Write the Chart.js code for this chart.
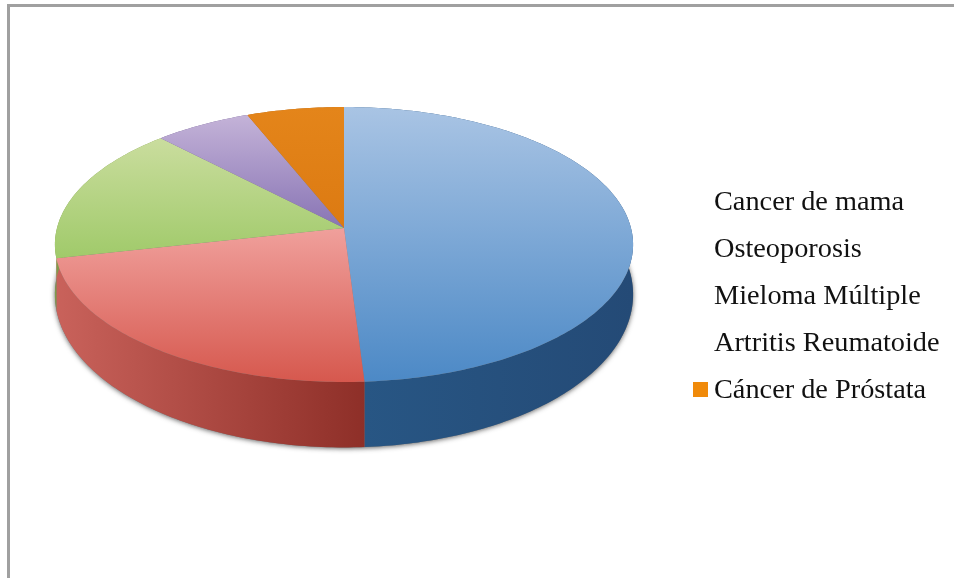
<!DOCTYPE html>
<html>
<head>
<meta charset="utf-8">
<script src="https://cdn.jsdelivr.net/npm/chart.js@4"></script>
<style>
    body { margin: 0; background: #fff; overflow: hidden; }
    #wrap { position: relative; width: 954px; height: 578px; }
    #frame { position: absolute; left: 7px; top: 4px; right: 0; bottom: 0; border-top: 3px solid #a0a0a0; border-left: 3px solid #a0a0a0; }
    canvas { position: absolute; left: 0; top: 0; }
    .legend-row { position: absolute; left: 714px; font: 28.3px/32px "Liberation Serif", serif; color: #111; white-space: nowrap; }
    .legend-box { position: absolute; left: -21px; top: 9px; width: 15px; height: 15px; }
</style>
</head>
<body>
<div id="wrap">
    <div id="frame"></div>
    <canvas id="pie" width="954" height="578"></canvas>
</div>
<script>
const labels = ['Cancer de mama', 'Osteoporosis', 'Mieloma Múltiple', 'Artritis Reumatoide', 'Cáncer de Próstata'];
const values = [49, 22.5, 16.3, 6.1, 6.1];

const topLight = ['#a9c4e4', '#f0a09c', '#cadd9e', '#c4b3d8', '#e4851a'];
const topDark = ['#4c89c6', '#d6584e', '#a0ca6a', '#8874b4', '#dc7a12'];
const sideLeft = ['#285785', '#c9625b', '#7f9a4a', '#6b5a8c', '#b0620f'];
const sideRight = ['#244a76', '#8e2f28', '#7f9a4a', '#6b5a8c', '#b0620f'];

// tilt of the disc, as ratios of the radius chart.js gives the arcs
const tilt = { wide: 287 / 218, tall: 135.5 / 218, persp: 0.12, mid: 17, drop: 50, grow: 1.113 };

function project(arc, angle) {
    const u = Math.cos(angle), v = Math.sin(angle);
    const w = 1 - tilt.persp * v;
    return {
        x: arc.x + arc.outerRadius * tilt.wide * u / w,
        y: arc.y + arc.outerRadius * tilt.tall * v / w
    };
}

function lower(arc, p) {
    const mid = arc.y + tilt.mid;
    return { x: p.x, y: mid + tilt.drop + (p.y - mid) * tilt.grow };
}

function rim(arc, from, to) {
    const steps = Math.max(2, Math.ceil(Math.abs(to - from) * 60));
    const pts = [];
    for (let i = 0; i <= steps; i++) pts.push(project(arc, from + (to - from) * i / steps));
    return pts;
}

function trace(ctx, pts) {
    ctx.beginPath();
    pts.forEach((p, i) => i ? ctx.lineTo(p.x, p.y) : ctx.moveTo(p.x, p.y));
    ctx.closePath();
}

const disc3d = {
    id: 'disc3d',
    beforeDatasetsDraw(chart) {
        const ctx = chart.ctx;
        const arcs = chart.getDatasetMeta(0).data;

        // soft shadow under the disc
        const whole = rim(arcs[0], 0, Math.PI * 2).map(p => lower(arcs[0], p));
        ctx.save();
        ctx.shadowColor = 'rgba(50,50,50,0.75)';
        ctx.shadowBlur = 5;
        ctx.shadowOffsetY = 1;
        ctx.fillStyle = '#777';
        trace(ctx, whole);
        ctx.fill();
        ctx.restore();

        arcs.forEach((arc, i) => {
            const edge = rim(arc, arc.startAngle, arc.endAngle);
            const pts = edge.concat(edge.map(p => lower(arc, p)).reverse());
            const xs = edge.map(p => p.x);
            const g = ctx.createLinearGradient(Math.min(...xs), 0, Math.max(...xs), 0);
            g.addColorStop(0, sideLeft[i]);
            g.addColorStop(1, sideRight[i]);
            ctx.fillStyle = g;
            trace(ctx, pts);
            ctx.fill();
        });

        arcs.forEach((arc, i) => {
            const pts = [{ x: arc.x, y: arc.y }].concat(rim(arc, arc.startAngle, arc.endAngle));
            const ys = pts.map(p => p.y);
            const g = ctx.createLinearGradient(0, Math.min(...ys), 0, Math.max(...ys));
            g.addColorStop(0, topLight[i]);
            g.addColorStop(1, topDark[i]);
            ctx.fillStyle = g;
            trace(ctx, pts);
            ctx.fill();
        });
        return false;
    }
};

new Chart(document.getElementById('pie').getContext('2d'), {
    type: 'pie',
    data: { labels: labels, datasets: [{ data: values, backgroundColor: topDark, borderWidth: 0 }] },
    options: {
        responsive: false,
        animation: false,
        layout: { padding: { left: 55, right: 321, top: 10, bottom: 132 } },
        plugins: { legend: { display: false }, tooltip: { enabled: false } }
    },
    plugins: [disc3d]
});

// legend: only the last entry shows its colour box in the original
labels.forEach((name, i) => {
    const row = document.createElement('div');
    row.className = 'legend-row';
    row.style.top = (185 + i * 47) + 'px';
    row.textContent = name;
    if (i === labels.length - 1) {
        const box = document.createElement('span');
        box.className = 'legend-box';
        box.style.background = '#f08a0a';
        row.appendChild(box);
    }
    document.getElementById('wrap').appendChild(row);
});
</script>
</body>
</html>
